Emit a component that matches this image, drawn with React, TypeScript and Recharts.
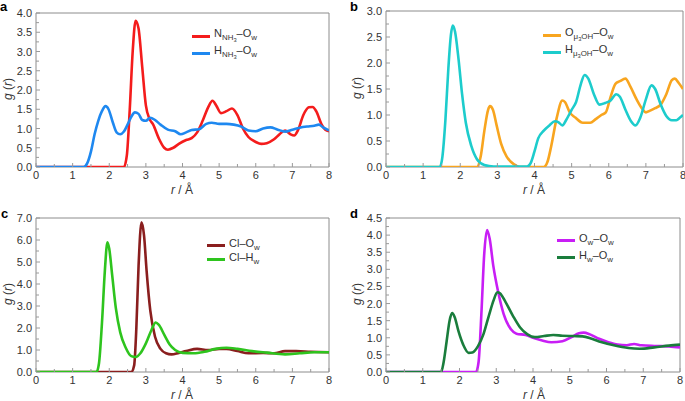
import React from "react";
import { LineChart, Line, XAxis, YAxis, ReferenceArea } from "recharts";

const FONT = "'Liberation Sans', Arial, Helvetica, sans-serif";
const R_TICKS = [0, 0.5, 1, 1.5, 2, 2.5, 3, 3.5, 4, 4.5, 5, 5.5, 6, 6.5, 7, 7.5, 8];

// a: NH3
const nNH3Ow: [number, number][] = [
  [0, 0], [2.4, 0], [2.48, 0.3], [2.56, 1.5], [2.64, 3.0], [2.72, 3.8], [2.8, 3.6], [2.9, 2.6],
  [3.0, 1.6], [3.1, 1.25], [3.2, 1.1], [3.35, 0.75], [3.5, 0.5], [3.6, 0.45], [3.75, 0.5],
  [3.9, 0.6], [4.1, 0.7], [4.25, 0.75], [4.4, 0.9], [4.55, 1.2], [4.7, 1.55], [4.82, 1.72],
  [4.92, 1.6], [5.05, 1.4], [5.2, 1.45], [5.35, 1.52], [5.5, 1.35], [5.65, 1.0], [5.8, 0.78],
  [6.0, 0.65], [6.15, 0.6], [6.3, 0.62], [6.5, 0.72], [6.65, 0.85], [6.8, 0.95], [6.95, 0.85],
  [7.05, 0.82], [7.15, 0.95], [7.3, 1.35], [7.45, 1.55], [7.55, 1.56], [7.65, 1.45], [7.8, 1.1],
  [7.9, 0.97], [8, 0.93],
];
const hNH3Ow: [number, number][] = [
  [0, 0], [1.3, 0], [1.4, 0.1], [1.5, 0.4], [1.6, 0.85], [1.7, 1.2], [1.8, 1.45], [1.9, 1.58],
  [1.98, 1.5], [2.1, 1.15], [2.2, 0.9], [2.3, 0.85], [2.4, 0.92], [2.5, 1.1], [2.6, 1.3],
  [2.7, 1.42], [2.8, 1.38], [2.9, 1.22], [3.0, 1.2], [3.12, 1.28], [3.25, 1.22], [3.4, 1.1],
  [3.6, 0.97], [3.8, 0.93], [3.95, 0.85], [4.1, 0.9], [4.25, 0.96], [4.45, 0.98], [4.65, 1.12],
  [4.8, 1.15], [5.0, 1.12], [5.2, 1.12], [5.4, 1.1], [5.6, 1.05], [5.8, 0.95], [6.0, 0.93],
  [6.2, 1.0], [6.4, 1.03], [6.6, 0.97], [6.8, 0.92], [7.0, 0.97], [7.2, 1.02], [7.4, 1.05],
  [7.6, 1.07], [7.72, 1.1], [7.85, 1.02], [8, 0.95],
];

// b: μ3OH
const oMuOw: [number, number][] = [
  [0, 0], [2.45, 0], [2.55, 0.2], [2.65, 0.7], [2.75, 1.1], [2.8, 1.17], [2.88, 1.1], [2.98, 0.8],
  [3.1, 0.45], [3.25, 0.2], [3.45, 0.05], [3.6, 0], [4.25, 0], [4.35, 0.1], [4.45, 0.4],
  [4.6, 0.95], [4.75, 1.28], [4.82, 1.25], [4.95, 1.05], [5.1, 0.95], [5.3, 0.85], [5.5, 0.85],
  [5.65, 0.92], [5.8, 1.0], [5.92, 1.05], [6.05, 1.35], [6.18, 1.6], [6.3, 1.65], [6.45, 1.7],
  [6.58, 1.55], [6.75, 1.3], [6.9, 1.12], [7.0, 1.05], [7.1, 1.08], [7.25, 1.13], [7.4, 1.2],
  [7.55, 1.4], [7.7, 1.67], [7.78, 1.7], [7.88, 1.62], [8, 1.5],
];
const hMuOw: [number, number][] = [
  [0, 0], [1.45, 0], [1.52, 0.2], [1.6, 0.9], [1.68, 1.9], [1.75, 2.55], [1.8, 2.72], [1.86, 2.6],
  [1.95, 2.1], [2.05, 1.4], [2.15, 0.85], [2.3, 0.4], [2.45, 0.15], [2.65, 0.04], [2.9, 0.01],
  [3.8, 0.01], [3.9, 0.08], [4.0, 0.3], [4.1, 0.55], [4.25, 0.7], [4.4, 0.8], [4.55, 0.88],
  [4.65, 0.86], [4.75, 0.8], [4.85, 0.9], [5.0, 1.1], [5.12, 1.25], [5.25, 1.6], [5.35, 1.77],
  [5.45, 1.7], [5.6, 1.4], [5.75, 1.2], [5.9, 1.23], [6.05, 1.28], [6.2, 1.4], [6.3, 1.35],
  [6.45, 1.1], [6.6, 0.88], [6.72, 0.8], [6.85, 0.95], [7.0, 1.3], [7.15, 1.57], [7.25, 1.5],
  [7.4, 1.2], [7.55, 0.98], [7.7, 0.9], [7.82, 0.9], [7.92, 0.95], [8, 1.0],
];

// c: Cl
const clOw: [number, number][] = [
  [0, 0], [2.6, 0], [2.68, 0.3], [2.74, 2.0], [2.8, 4.8], [2.88, 6.8], [2.95, 6.2], [3.02, 4.6],
  [3.12, 2.8], [3.25, 1.6], [3.4, 1.05], [3.55, 0.85], [3.7, 0.8], [3.9, 0.87], [4.1, 0.95],
  [4.4, 1.05], [4.7, 1.0], [5.0, 1.05], [5.2, 1.05], [5.5, 0.95], [5.8, 0.85], [6.2, 0.87],
  [6.5, 0.85], [6.8, 0.95], [7.1, 0.95], [7.5, 0.92], [8, 0.9],
];
const clHw: [number, number][] = [
  [0, 0], [1.65, 0], [1.72, 0.4], [1.8, 2.2], [1.88, 4.6], [1.95, 5.9], [2.0, 5.6], [2.08, 4.4],
  [2.18, 2.9], [2.3, 1.8], [2.45, 1.1], [2.6, 0.72], [2.72, 0.68], [2.85, 0.85], [3.0, 1.3],
  [3.15, 1.9], [3.27, 2.25], [3.35, 2.15], [3.5, 1.7], [3.65, 1.25], [3.8, 1.0], [4.0, 0.87],
  [4.3, 0.85], [4.6, 0.92], [4.9, 1.05], [5.2, 1.1], [5.5, 1.05], [5.9, 0.95], [6.3, 0.88],
  [6.8, 0.8], [7.2, 0.85], [7.6, 0.9], [8, 0.9],
];

// d: water
const owOw: [number, number][] = [
  [0, 0], [2.45, 0], [2.52, 0.3], [2.6, 1.8], [2.67, 3.4], [2.75, 4.15], [2.82, 3.9], [2.92, 3.1],
  [3.05, 2.35], [3.2, 1.7], [3.4, 1.25], [3.55, 1.12], [3.8, 1.08], [4.0, 1.0], [4.25, 0.92],
  [4.5, 0.87], [4.8, 0.9], [5.05, 1.02], [5.25, 1.13], [5.38, 1.15], [5.55, 1.1], [5.8, 0.97],
  [6.05, 0.87], [6.3, 0.8], [6.55, 0.78], [6.75, 0.82], [6.95, 0.78], [7.3, 0.76], [7.7, 0.75],
  [8, 0.72],
];
const hwOw: [number, number][] = [
  [0, 0], [1.5, 0], [1.57, 0.3], [1.65, 0.9], [1.73, 1.5], [1.8, 1.72], [1.87, 1.6], [1.97, 1.2],
  [2.1, 0.8], [2.25, 0.56], [2.35, 0.57], [2.5, 0.75], [2.65, 1.1], [2.8, 1.65], [2.93, 2.1],
  [3.03, 2.33], [3.1, 2.3], [3.25, 2.05], [3.45, 1.65], [3.65, 1.3], [3.85, 1.1], [4.05, 1.02],
  [4.3, 1.05], [4.55, 1.08], [4.8, 1.06], [5.1, 1.05], [5.35, 1.04], [5.6, 0.97], [5.85, 0.88],
  [6.2, 0.78], [6.6, 0.7], [6.9, 0.68], [7.3, 0.72], [7.7, 0.77], [8, 0.8],
];

const toPts = (arr: [number, number][]) => arr.map(([r, g]) => ({ r, g }));

const Sub = ({ children }: { children: React.ReactNode }) => (
  <span style={{ fontSize: "0.72em", verticalAlign: "-0.35em" }}>{children}</span>
);

type Series = { data: [number, number][]; color: string };

type PanelProps = {
  left: number;
  top: number;
  width: number;
  height: number;
  mTop: number;
  mRight: number;
  yAxisW: number;
  xAxisH: number;
  yMax: number;
  yStep: number;
  series: Series[];
};

function Panel(p: PanelProps) {
  const yTicks: number[] = [];
  for (let v = 0; v <= p.yMax + 1e-9; v += p.yStep / 2) yTicks.push(Math.round(v * 100) / 100);
  const plotBottom = p.height - p.xAxisH;
  const isMajorY = (v: number) => Math.abs(v / p.yStep - Math.round(v / p.yStep)) < 1e-6;

  const YTick = (t: any) => {
    const v = t.payload.value as number;
    const major = isMajorY(v);
    const x0 = t.x + 4;
    return (
      <g>
        <line x1={x0} x2={x0 + (major ? 4 : 3)} y1={t.y} y2={t.y} stroke="#9a9a9a" />
        {major && (
          <text x={t.x} y={t.y} dy={4} textAnchor="end" fontSize={11} fill="#333" fontFamily={FONT}>
            {v.toFixed(1)}
          </text>
        )}
      </g>
    );
  };
  const XTick = (t: any) => {
    const v = t.payload.value as number;
    const major = Number.isInteger(v);
    return (
      <g>
        <line x1={t.x} x2={t.x} y1={plotBottom} y2={plotBottom - (major ? 4 : 3)} stroke="#9a9a9a" />
        {major && (
          <text x={t.x} y={plotBottom + 12} textAnchor="middle" fontSize={11} fill="#333" fontFamily={FONT}>
            {v}
          </text>
        )}
      </g>
    );
  };

  return (
    <div style={{ position: "absolute", left: p.left, top: p.top }}>
      <LineChart
        width={p.width}
        height={p.height}
        margin={{ top: p.mTop, right: p.mRight, left: 0, bottom: 0 }}
      >
        <XAxis
          type="number"
          dataKey="r"
          domain={[0, 8]}
          ticks={R_TICKS}
          interval={0}
          height={p.xAxisH}
          axisLine={false}
          tickLine={false}
          tickSize={0}
          tickMargin={0}
          tick={XTick}
          allowDataOverflow
        />
        <YAxis
          type="number"
          domain={[0, p.yMax]}
          ticks={yTicks}
          interval={0}
          width={p.yAxisW}
          axisLine={false}
          tickLine={false}
          tickSize={0}
          tickMargin={4}
          tick={YTick}
          allowDataOverflow
        />
        <ReferenceArea x1={0} x2={8} y1={0} y2={p.yMax} fill="none" stroke="#8c8c8c" strokeWidth={1} />
        {p.series.map((s, i) => (
          <Line
            key={i}
            data={toPts(s.data)}
            dataKey="g"
            type="monotone"
            stroke={s.color}
            strokeWidth={2.6}
            dot={false}
            isAnimationActive={false}
          />
        ))}
      </LineChart>
    </div>
  );
}

const textBase: React.CSSProperties = { position: "absolute", fontFamily: FONT, color: "#333", whiteSpace: "nowrap" };

function YTitle({ x, y }: { x: number; y: number }) {
  return (
    <div style={{ ...textBase, left: x - 20, top: y - 8, width: 40, textAlign: "center", fontSize: 12, transform: "rotate(-90deg)" }}>
      <i>g</i> (<i>r</i>)
    </div>
  );
}
function XTitle({ x, y }: { x: number; y: number }) {
  return (
    <div style={{ ...textBase, left: x - 20, top: y - 8, width: 40, textAlign: "center", fontSize: 12 }}>
      <i>r</i> / Å
    </div>
  );
}
function Letter({ x, y, c }: { x: number; y: number; c: string }) {
  return (
    <div style={{ ...textBase, left: x, top: y, fontSize: 13, lineHeight: "13px", fontWeight: "bold", color: "#000" }}>{c}</div>
  );
}
function LegendRow({ x, y, color, children }: { x: number; y: number; color: string; children: React.ReactNode }) {
  return (
    <div style={{ ...textBase, left: x, top: y - 8, fontSize: 11, display: "flex", alignItems: "center", lineHeight: "16px" }}>
      <span style={{ display: "inline-block", width: 18, height: 3, background: color, marginRight: 4 }} />
      <span>{children}</span>
    </div>
  );
}

const RED = "#f41c1c";
const BLUE = "#1e88f0";
const ORANGE = "#f8a51f";
const CYAN = "#1dcccc";
const DARKRED = "#8a1e1e";
const GREEN = "#2ec41e";
const MAGENTA = "#c81ef5";
const DKGREEN = "#1a7d3c";

export default function App() {
  return (
    <div style={{ position: "absolute", left: 0, top: 0, width: 685, height: 401, background: "#fff", overflow: "hidden" }}>
      <Panel left={0} top={0} width={340} height={200} mTop={13} mRight={11} yAxisW={36} xAxisH={33}
        yMax={4} yStep={0.5} series={[{ data: nNH3Ow, color: RED }, { data: hNH3Ow, color: BLUE }]} />
      <Panel left={340} top={0} width={345} height={200} mTop={11} mRight={2} yAxisW={46} xAxisH={33}
        yMax={3} yStep={0.5} series={[{ data: oMuOw, color: ORANGE }, { data: hMuOw, color: CYAN }]} />
      <Panel left={0} top={200} width={340} height={201} mTop={18} mRight={11} yAxisW={36} xAxisH={29}
        yMax={7} yStep={1} series={[{ data: clOw, color: DARKRED }, { data: clHw, color: GREEN }]} />
      <Panel left={340} top={200} width={345} height={201} mTop={18} mRight={5} yAxisW={46} xAxisH={29}
        yMax={4.5} yStep={0.5} series={[{ data: owOw, color: MAGENTA }, { data: hwOw, color: DKGREEN }]} />

      <Letter x={0} y={0} c="a" />
      <Letter x={350} y={0} c="b" />
      <Letter x={1} y={207} c="c" />
      <Letter x={350} y={207} c="d" />

      <YTitle x={8} y={90} />
      <YTitle x={357} y={89} />
      <YTitle x={8} y={295} />
      <YTitle x={357} y={295} />

      <XTitle x={182} y={191} />
      <XTitle x={534} y={191} />
      <XTitle x={182} y={396} />
      <XTitle x={534} y={396} />

      <LegendRow x={192} y={33} color={RED}>N<Sub>NH<Sub>3</Sub></Sub>–O<Sub>w</Sub></LegendRow>
      <LegendRow x={192} y={50} color={BLUE}>H<Sub>NH<Sub>3</Sub></Sub>–O<Sub>w</Sub></LegendRow>
      <LegendRow x={543} y={32} color={ORANGE}>O<Sub>μ<Sub>3</Sub>OH</Sub>–O<Sub>w</Sub></LegendRow>
      <LegendRow x={543} y={49} color={CYAN}>H<Sub>μ<Sub>3</Sub>OH</Sub>–O<Sub>w</Sub></LegendRow>
      <LegendRow x={207} y={243} color={DARKRED}>Cl–O<Sub>w</Sub></LegendRow>
      <LegendRow x={207} y={257} color={GREEN}>Cl–H<Sub>w</Sub></LegendRow>
      <LegendRow x={557} y={238} color={MAGENTA}>O<Sub>w</Sub>–O<Sub>w</Sub></LegendRow>
      <LegendRow x={557} y={255} color={DKGREEN}>H<Sub>w</Sub>–O<Sub>w</Sub></LegendRow>
    </div>
  );
}
